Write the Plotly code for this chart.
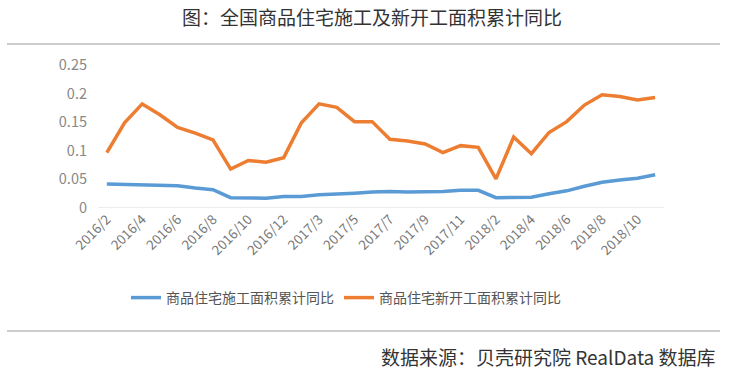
import plotly.graph_objects as go

months = (["2016/%d" % m for m in range(2, 13)] +
          ["2017/%d" % m for m in range(2, 13)] +
          ["2018/%d" % m for m in range(2, 12)])

construction = [0.042, 0.041, 0.040, 0.039, 0.039, 0.035, 0.032, 0.018, 0.018, 0.017, 0.020,
                0.020, 0.023, 0.024, 0.026, 0.028, 0.029, 0.028, 0.028, 0.029, 0.031, 0.031,
                0.018, 0.018, 0.019, 0.025, 0.030, 0.038, 0.045, 0.049, 0.052, 0.058]

new_start = [0.097, 0.149, 0.182, 0.163, 0.141, 0.131, 0.119, 0.068, 0.083, 0.080, 0.088,
             0.149, 0.182, 0.176, 0.151, 0.151, 0.120, 0.117, 0.112, 0.097, 0.109, 0.106,
             0.051, 0.124, 0.095, 0.132, 0.151, 0.180, 0.198, 0.195, 0.189, 0.193]

tick_labels = months[0::2]
y_ticks = [0, 0.05, 0.1, 0.15, 0.2, 0.25]
y_tick_text = ["0", "0.05", "0.1", "0.15", "0.2", "0.25"]

names = ["商品住宅施工面积累计同比", "商品住宅新开工面积累计同比"]
colors = ["#5B9BD5", "#ED7D31"]

font_cjk = "Noto Sans CJK SC, Noto Sans, sans-serif"

fig = go.Figure()
fig.add_trace(go.Scatter(x=months, y=construction, mode="lines", name=names[0],
                         line=dict(color=colors[0], width=3.5)))
fig.add_trace(go.Scatter(x=months, y=new_start, mode="lines", name=names[1],
                         line=dict(color=colors[1], width=3.5)))

T, B = 65, 208
H = B - T

def py(pix):
    return (B - pix) / H

fig.update_layout(
    width=745, height=380,
    margin=dict(l=98, r=81, t=T, b=380 - B, pad=0),
    paper_bgcolor="white", plot_bgcolor="white",
    font=dict(family=font_cjk, color="#666666"),
    title=dict(text="图：全国商品住宅施工及新开工面积累计同比", x=(372 - 98) / 566, xref="paper",
               xanchor="center", y=1 - 18 / 380, yanchor="middle",
               font=dict(size=19, color="#333333", family=font_cjk)),
    xaxis=dict(type="category", categoryorder="array", categoryarray=months,
               tickmode="array", tickvals=tick_labels, ticktext=tick_labels,
               tickangle=-45, tickfont=dict(size=13.5, color="#777777"),
               showgrid=False, showline=False, ticks="", zeroline=False,
               range=[-0.5, len(months) - 0.5]),
    yaxis=dict(range=[0, 0.25], tickmode="array", tickvals=y_ticks, ticktext=y_tick_text,
               tickfont=dict(size=14.5, color="#888888"), showgrid=False,
               zeroline=False, showline=False, ticks="", ticklabelstandoff=10),
    showlegend=True,
    legend=dict(orientation="h", x=(126 - 98) / 566, xanchor="left",
                y=py(298), yanchor="middle", font=dict(size=14, color="#555555"),
                bgcolor="rgba(0,0,0,0)", itemwidth=30, tracegroupgap=0),
    shapes=[
        dict(type="line", xref="paper", yref="y", x0=0, x1=1, y0=0, y1=0,
             line=dict(color="#D9D9D9", width=1)),
        dict(type="line", xref="paper", yref="paper", x0=(7 - 98) / 566, x1=(720 - 98) / 566,
             y0=py(44), y1=py(44), line=dict(color="#BBBBBB", width=1.5)),
        dict(type="line", xref="paper", yref="paper", x0=(7 - 98) / 566, x1=(720 - 98) / 566,
             y0=py(331), y1=py(331), line=dict(color="#BBBBBB", width=1.5)),
    ],
    annotations=[
        dict(text="数据来源：贝壳研究院 RealData 数据库", xref="paper", yref="paper",
             x=(718 - 98) / 566, xanchor="right", y=py(356), yanchor="middle",
             showarrow=False, font=dict(size=19, color="#333333", family=font_cjk)),
    ],
)

fig.write_html("out.html", config={"displayModeBar": False},
               post_script="document.body.style.margin='0';")
